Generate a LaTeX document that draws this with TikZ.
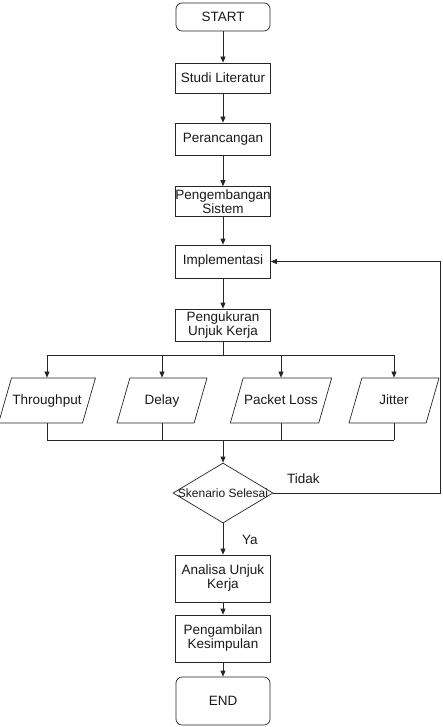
\documentclass[tikz,border=0pt]{standalone}
\usepackage{fontspec}
\setmainfont{Liberation Sans}
\usetikzlibrary{shapes.geometric,arrows.meta}
\begin{document}
\begin{tikzpicture}[x=1pt,y=-1pt,
  every node/.style={font=\fontsize{13.5}{14}\selectfont, text=black!90},
  line/.style={draw=black!85, line width=0.7pt},
  arr/.style={line, -{Triangle[width=5pt,length=6pt]}},
  term/.style={draw=black!85, line width=0.7pt, rounded corners=6pt, minimum width=94pt, inner sep=0pt},
  proc/.style={draw=black!85, line width=0.7pt, minimum width=95pt, inner sep=0pt, align=center},
  io/.style={trapezium, trapezium left angle=74, trapezium right angle=106, trapezium stretches body=true, draw=black!85, line width=0.7pt, minimum width=90pt, text height=10pt, text depth=3pt, inner ysep=16pt, inner xsep=1pt},
  dec/.style={diamond, draw=black!85, line width=0.7pt, minimum width=100pt, minimum height=60pt, inner sep=0pt, font=\fontsize{12}{14}\selectfont},
  lbl/.style={anchor=west, inner sep=0pt}
]
\useasboundingbox (0,0) rectangle (442,727);

\node[term, minimum height=28pt] (start) at (223,17) {START};
\node[proc, minimum height=30pt] (studi) at (223,78) {Studi Literatur};
\node[proc, minimum height=32pt] (peran) at (223,139) {Perancangan};
\node[proc, minimum height=30pt] (pengem) at (223,201.5) {Pengembangan\\Sistem};
\node[proc, minimum height=33pt] (impl) at (223,261.5) {Implementasi};
\node[proc, minimum height=32pt] (penguk) at (223,325) {Pengukuran\\Unjuk Kerja};

\node[io] (tp) at (47,400.5) {Throughput};
\node[io] (dl) at (162,400.5) {Delay};
\node[io] (pl) at (281,400.5) {Packet Loss};
\node[io] (jit) at (394,400.5) {Jitter};

\node[dec] (dec) at (223,493) {\makebox[0pt]{Skenario Selesai}};
\node[lbl] (tidak) at (287,479) {Tidak};
\node[lbl] (ya) at (242,540) {Ya};

\node[proc, minimum height=47pt] (anal) at (223,578.5) {Analisa Unjuk\\Kerja};
\node[proc, minimum height=47pt] (kes) at (223,638.5) {Pengambilan\\Kesimpulan};
\node[term, minimum height=48pt] (stop) at (223,701) {END};

\coordinate (bus1) at (223,355);
\coordinate (bus2) at (223,440);
\coordinate (loopx) at (440.5,261.5);

\draw[arr] (start) -- (studi);
\draw[arr] (studi) -- (peran);
\draw[arr] (peran) -- (pengem);
\draw[arr] (pengem) -- (impl);
\draw[arr] (impl) -- (penguk);
\draw[line] (penguk.south) -- (bus1);
\draw[line] (tp.center |- bus1) -- (jit.center |- bus1);
\foreach \n in {tp,dl,pl,jit}{
  \draw[arr] (\n.center |- bus1) -- (\n.center |- \n.north);
  \draw[line] (\n.center |- \n.south) -- (\n.center |- bus2);
}
\draw[line] (tp.center |- bus2) -- (jit.center |- bus2);
\draw[arr] (bus2) -- (dec);
\draw[arr] (dec.east) -| (loopx) -- (impl.east);
\draw[arr] (dec) -- (anal);
\draw[arr] (anal) -- (kes);
\draw[arr] (kes) -- (stop);
\end{tikzpicture}
\end{document}
